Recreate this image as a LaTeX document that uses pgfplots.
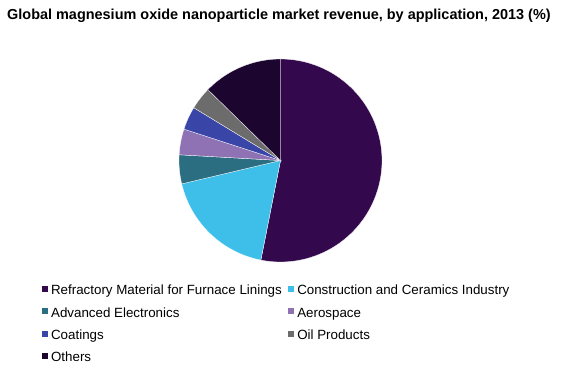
\documentclass[border=0pt]{standalone}
\usepackage{pgfplots}
\pgfplotsset{compat=1.18}
\usepackage{fontspec}
\setmainfont{Liberation Sans}
\definecolor{cRef}{HTML}{33084D}
\definecolor{cCon}{HTML}{3DBFEA}
\definecolor{cAdv}{HTML}{2B6E82}
\definecolor{cAer}{HTML}{8E72B3}
\definecolor{cCoa}{HTML}{3A45A8}
\definecolor{cOil}{HTML}{6C6C6C}
\definecolor{cOth}{HTML}{1C0630}
% shares (%)
\def\pRef{53.1}
\def\pCon{18.2}
\def\pAdv{4.6}
\def\pAer{4.1}
\def\pCoa{3.7}
\def\pOil{3.6}
\def\pOth{12.7}
\begin{document}%
\begin{tikzpicture}
\pgfmathsetmacro\tA{90}
\pgfmathsetmacro\tB{\tA-3.6*\pRef}
\pgfmathsetmacro\tC{\tB-3.6*\pCon}
\pgfmathsetmacro\tD{\tC-3.6*\pAdv}
\pgfmathsetmacro\tE{\tD-3.6*\pAer}
\pgfmathsetmacro\tF{\tE-3.6*\pCoa}
\pgfmathsetmacro\tG{\tF-3.6*\pOil}
\pgfmathsetmacro\tH{\tG-3.6*\pOth}
\begin{axis}[
  scale only axis, width=566bp, height=371bp,
  xmin=0, xmax=566, ymin=0, ymax=371,
  hide axis, clip=false,
  legend columns=2,
  legend cell align=left,
  legend image code/.code={\fill[#1,draw=none] (0bp,-0.5bp) rectangle (6bp,5.5bp);},
  legend style={at={(axis cs:41.7,85.9)}, anchor=north west, draw=none, fill=none,
    inner sep=0pt, outer sep=0pt,
    font=\fontsize{13.4}{15}\selectfont,
    nodes={inner sep=0pt, outer sep=0pt, text height=9.7bp, text depth=3bp},
    row sep=9.7bp,
    /tikz/every odd column/.append style={column sep=3.4bp},
    /tikz/every even column/.append style={column sep=6bp}},
]
\coordinate (bl) at (rel axis cs:0,0);
\coordinate (tr) at (rel axis cs:1,1);
\addplot[fill=cRef, draw=white, line width=0.3pt, domain=\tB:\tA, samples=120, variable=\t]
  ({280.5+101.5*cos(t)}, {210.5+101.5*sin(t)}) -- (axis cs:280.5,210.5) -- cycle;
\addlegendentry{Refractory Material for Furnace Linings}
\addplot[fill=cCon, draw=white, line width=0.3pt, domain=\tC:\tB, samples=50, variable=\t]
  ({280.5+101.5*cos(t)}, {210.5+101.5*sin(t)}) -- (axis cs:280.5,210.5) -- cycle;
\addlegendentry{Construction and Ceramics Industry}
\addplot[fill=cAdv, draw=white, line width=0.3pt, domain=\tD:\tC, samples=20, variable=\t]
  ({280.5+101.5*cos(t)}, {210.5+101.5*sin(t)}) -- (axis cs:280.5,210.5) -- cycle;
\addlegendentry{Advanced Electronics}
\addplot[fill=cAer, draw=white, line width=0.3pt, domain=\tE:\tD, samples=20, variable=\t]
  ({280.5+101.5*cos(t)}, {210.5+101.5*sin(t)}) -- (axis cs:280.5,210.5) -- cycle;
\addlegendentry{Aerospace}
\addplot[fill=cCoa, draw=white, line width=0.3pt, domain=\tF:\tE, samples=20, variable=\t]
  ({280.5+101.5*cos(t)}, {210.5+101.5*sin(t)}) -- (axis cs:280.5,210.5) -- cycle;
\addlegendentry{Coatings}
\addplot[fill=cOil, draw=white, line width=0.3pt, domain=\tG:\tF, samples=20, variable=\t]
  ({280.5+101.5*cos(t)}, {210.5+101.5*sin(t)}) -- (axis cs:280.5,210.5) -- cycle;
\addlegendentry{Oil Products}
\addplot[fill=cOth, draw=white, line width=0.3pt, domain=\tH:\tG, samples=40, variable=\t]
  ({280.5+101.5*cos(t)}, {210.5+101.5*sin(t)}) -- (axis cs:280.5,210.5) -- cycle;
\addlegendentry{Others}
\node[anchor=base west, inner sep=0pt, font=\fontsize{14.5}{16}\selectfont\bfseries] at (axis cs:7,351.5) {Global magnesium oxide nanoparticle market revenue, by application, 2013 (\%)};
\end{axis}
\pgfresetboundingbox
\useasboundingbox (bl) rectangle (tr);
\end{tikzpicture}%
\end{document}
